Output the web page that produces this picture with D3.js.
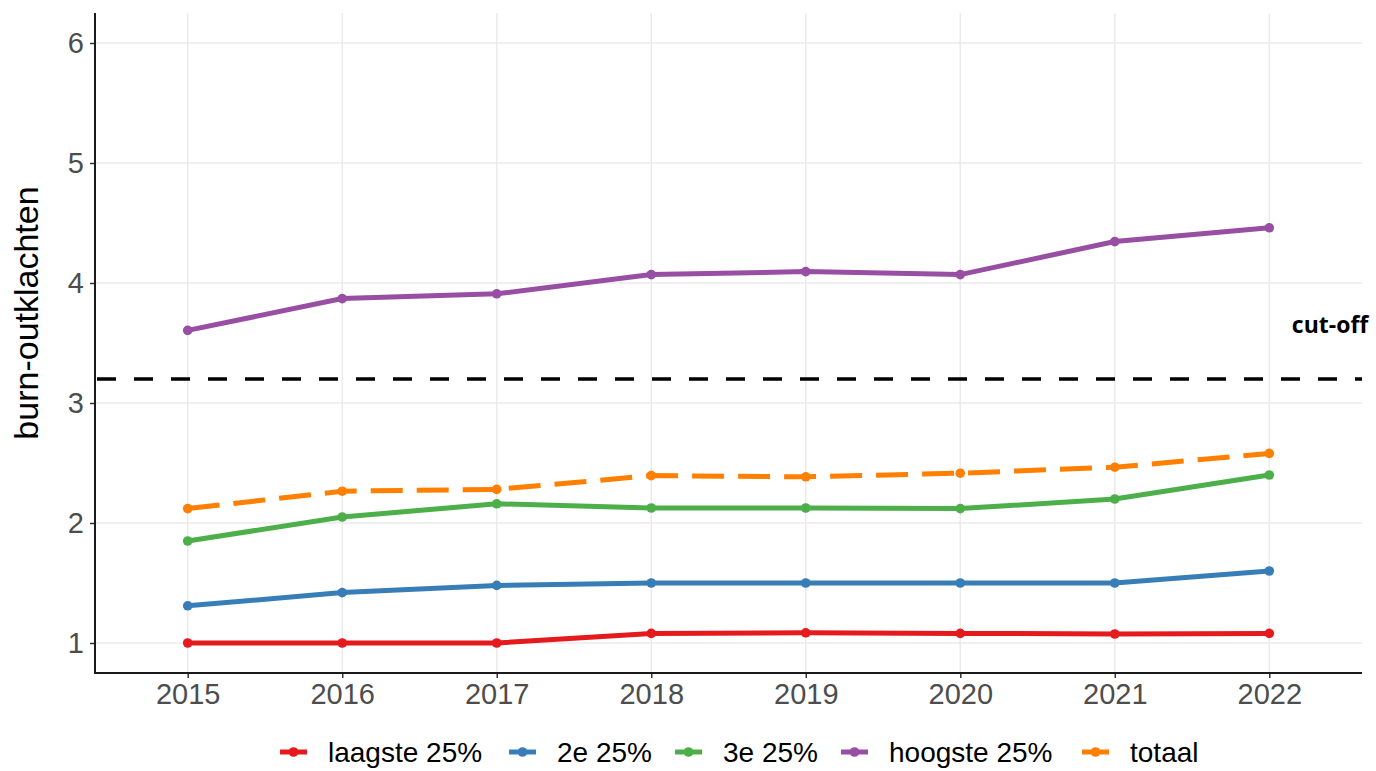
<!DOCTYPE html>
<html>
<head>
<meta charset="utf-8">
<script src="https://cdn.jsdelivr.net/npm/d3@7"></script>
<style>
body { margin: 0; background: #fff; }
text { font-family: "Liberation Sans", Arial, sans-serif; }
</style>
</head>
<body>
<div id="chart"></div>
<script>
var width = 1376,
height = 771;

// data
var years = [2015, 2016, 2017, 2018, 2019, 2020, 2021, 2022];
var laagste = [1.00, 1.00, 1.00, 1.08, 1.085, 1.08, 1.075, 1.08];
var tweede = [1.31, 1.42, 1.48, 1.50, 1.50, 1.50, 1.50, 1.60];
var derde = [1.85, 2.05, 2.16, 2.125, 2.125, 2.12, 2.20, 2.40];
var hoogste = [3.605, 3.87, 3.91, 4.07, 4.095, 4.07, 4.345, 4.46];
var totaal = [2.12, 2.265, 2.28, 2.395, 2.385, 2.415, 2.465, 2.58];
var cutoff = 3.2;
var yTicks = [1, 2, 3, 4, 5, 6];

var series = [
    {name: "laagste 25%", values: laagste, color: "#E41A1C", dash: null},
    {name: "2e 25%", values: tweede, color: "#377EB8", dash: null},
    {name: "3e 25%", values: derde, color: "#4DAF4A", dash: null},
    {name: "hoogste 25%", values: hoogste, color: "#984EA3", dash: null},
    {name: "totaal", values: totaal, color: "#FF7F00", dash: "32,14"}
];

var margin = {left: 95, right: 14, top: 13, bottom: 98};

var svg = d3.select('#chart').append('svg')
    .attr('width', width)
    .attr('height', height);

// scales (ggplot style: discrete x with 0.6 expansion, y 1..6 with 5%)
let scaleX = d3.scaleLinear()
    .domain([years[0] - 0.6, years[years.length - 1] + 0.6])
    .range([margin.left, width - margin.right]);
let scaleY = d3.scaleLinear()
    .domain([0.75, 6.25])
    .range([height - margin.bottom, margin.top]);

// grid
var grid = svg.append('g');
grid.selectAll(".hgrid").data(yTicks).enter().append("line")
    .attr("class", "hgrid")
    .attr("x1", scaleX.range()[0]).attr("x2", scaleX.range()[1])
    .attr("y1", d => scaleY(d)).attr("y2", d => scaleY(d))
    .attr("stroke", "#EBEBEB").attr("stroke-width", 1.5);
grid.selectAll(".vgrid").data(years).enter().append("line")
    .attr("class", "vgrid")
    .attr("x1", d => scaleX(d)).attr("x2", d => scaleX(d))
    .attr("y1", scaleY.range()[0]).attr("y2", scaleY.range()[1])
    .attr("stroke", "#EBEBEB").attr("stroke-width", 1.5);

// cut-off line
svg.append("line")
    .attr("x1", scaleX.range()[0]).attr("x2", scaleX.range()[1])
    .attr("y1", scaleY(cutoff)).attr("y2", scaleY(cutoff))
    .attr("stroke", "#000").attr("stroke-width", 3.5)
    .attr("stroke-dasharray", "19,18")
    .attr("stroke-dashoffset", -2);

svg.append("text")
    .attr("x", 1330)
    .attr("y", scaleY(cutoff) - 46)
    .attr("text-anchor", "middle")
    .style("font-family", "'Open Sans', sans-serif")
    .attr("font-weight", "bold")
    .attr("font-size", 23)
    .text("cut-off");

var lineFunc = d3.line()
    .x((d, i) => scaleX(years[i]))
    .y(d => scaleY(d));

var g = svg.append('g');
series.forEach(s => {
    g.append("path")
        .attr("d", lineFunc(s.values))
        .attr("fill", "none")
        .attr("stroke", s.color)
        .attr("stroke-width", 5)
        .attr("stroke-dasharray", s.dash);
    g.selectAll(null).data(s.values).enter().append("circle")
        .attr("cx", (d, i) => scaleX(years[i]))
        .attr("cy", d => scaleY(d))
        .attr("r", 4.8)
        .attr("fill", s.color);
});

// axes
var axisLeft = d3.axisLeft(scaleY).tickValues(yTicks).tickFormat(d3.format("d")).tickSize(5).tickPadding(6);
var axisBottom = d3.axisBottom(scaleX).tickValues(years).tickFormat(d3.format("d")).tickSize(5).tickPadding(5);

var ay = svg.append('g').attr("transform", "translate(" + margin.left + ",0)").call(axisLeft);
var ax = svg.append('g').attr("transform", "translate(0," + (height - margin.bottom) + ")").call(axisBottom);
[ax, ay].forEach(a => {
    a.select(".domain").remove();
    a.selectAll(".tick line").attr("stroke", "#333").attr("stroke-width", 1.5);
    a.selectAll(".tick text").attr("fill", "#4D4D4D").attr("font-size", 29)
        .attr("font-family", "'Liberation Sans', Arial, sans-serif");
});
svg.append("line")
    .attr("x1", margin.left).attr("x2", margin.left)
    .attr("y1", scaleY.range()[1]).attr("y2", scaleY.range()[0] + 1)
    .attr("stroke", "#1a1a1a").attr("stroke-width", 2);
svg.append("line")
    .attr("x1", margin.left - 1).attr("x2", scaleX.range()[1])
    .attr("y1", scaleY.range()[0]).attr("y2", scaleY.range()[0])
    .attr("stroke", "#1a1a1a").attr("stroke-width", 2);

// y axis title
svg.append("text")
    .attr("transform", "translate(38," + ((scaleY.range()[0] + scaleY.range()[1]) / 2 - 30) + ") rotate(-90)")
    .attr("text-anchor", "middle")
    .attr("font-size", 34)
    .attr("fill", "#000")
    .text("burn-outklachten");

// legend
var legendX = [280, 509, 675, 841, 1082];
var legend = svg.append('g').attr("class", "legend").attr("transform", "translate(0,752)");
let lItem = legend.selectAll(".lItem").data(series).enter().append("g")
    .attr("class", "lItem")
    .attr("transform", (d, i) => "translate(" + legendX[i] + ",0)");
lItem.append("line")
    .attr("x1", 0).attr("x2", 27).attr("y1", 0).attr("y2", 0)
    .attr("stroke", d => d.color).attr("stroke-width", 5);
lItem.append("circle")
    .attr("cx", 13.5).attr("cy", 0).attr("r", 4.8)
    .attr("fill", d => d.color);
lItem.append("text")
    .attr("x", 48)
    .attr("y", 10)
    .attr("font-size", 28)
    .attr("fill", "#000")
    .text(d => d.name);
</script>
</body>
</html>
